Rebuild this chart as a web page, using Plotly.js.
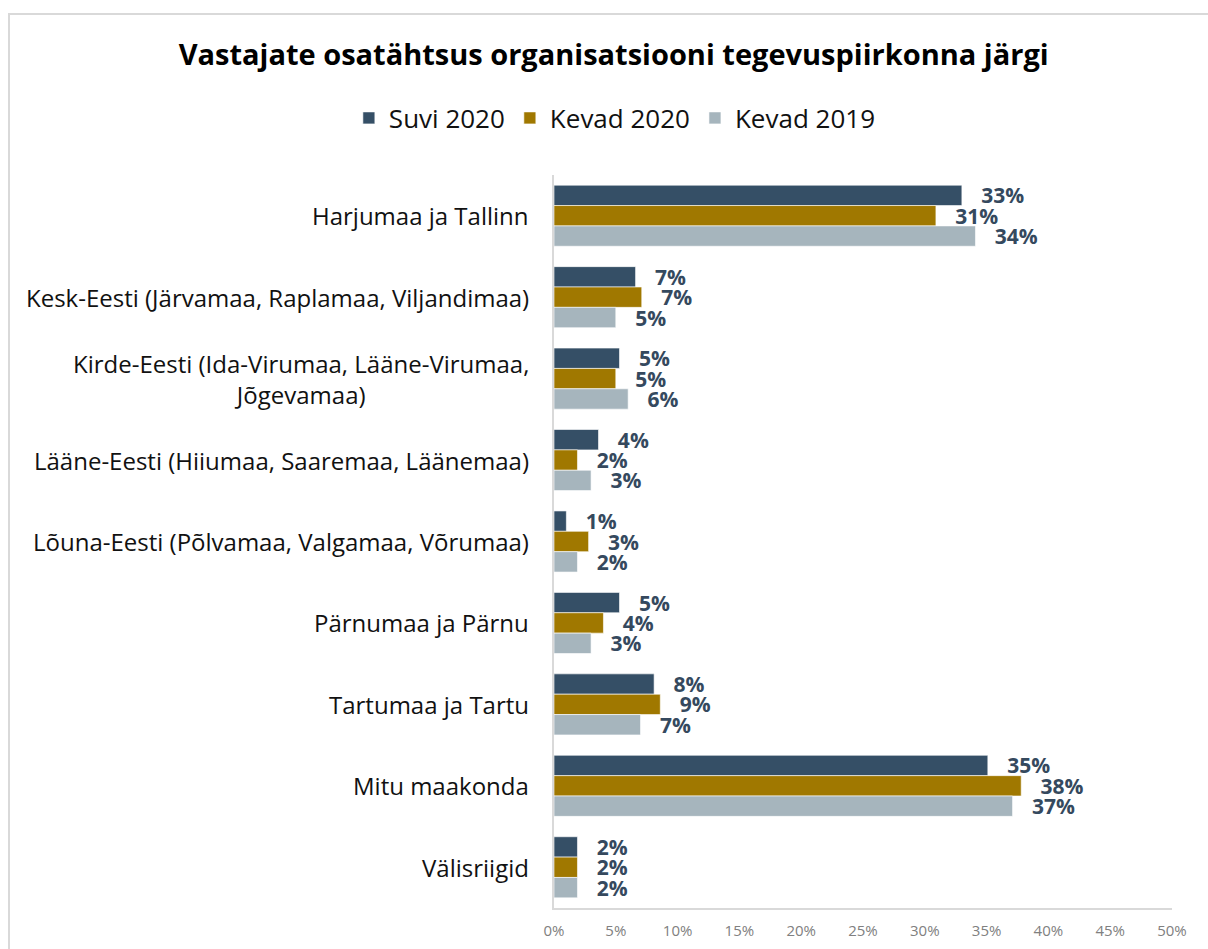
<!DOCTYPE html>
<html>
<head>
<meta charset="utf-8">
<script src="https://cdn.plot.ly/plotly-3.0.1.min.js"></script>
<style>
  html, body { margin: 0; padding: 0; background: #ffffff; }
  #wrap { position: relative; width: 1208px; height: 949px; overflow: hidden; }
  #chart { position: absolute; left: 0; top: 0; width: 1208px; height: 949px; }
  #frame { position: absolute; left: 8px; top: 13px; width: 1300px; height: 1100px;
           border: 2px solid #d9d9d9; box-sizing: border-box; pointer-events: none; }
</style>
</head>
<body>
<div id="wrap">
  <div id="chart"></div>
  <div id="frame"></div>
</div>
<script>
const chartTitle = 'Vastajate osatähtsus organisatsiooni tegevuspiirkonna järgi';
const categories = [
  'Harjumaa ja Tallinn',
  'Kesk-Eesti (Järvamaa, Raplamaa, Viljandimaa)',
  'Kirde-Eesti (Ida-Virumaa, Lääne-Virumaa,<br>Jõgevamaa)',
  'Lääne-Eesti (Hiiumaa, Saaremaa, Läänemaa)',
  'Lõuna-Eesti (Põlvamaa, Valgamaa, Võrumaa)',
  'Pärnumaa ja Pärnu',
  'Tartumaa ja Tartu',
  'Mitu maakonda',
  'Välisriigid'
];
const seriesNames = ['Suvi 2020', 'Kevad 2020', 'Kevad 2019'];
const suvi2020   = [33.0, 6.6, 5.3, 3.6, 1.0, 5.3, 8.1, 35.1, 1.9];
const kevad2020  = [30.9, 7.1, 5.0, 1.9, 2.8, 4.0, 8.6, 37.8, 1.9];
const kevad2019  = [34.1, 5.0, 6.0, 3.0, 1.9, 3.0, 7.0, 37.1, 1.9];
const xTickVals  = [0, 5, 10, 15, 20, 25, 30, 35, 40, 45, 50];

const colors = ['#354f66', '#a07800', '#a6b5bd'];
const labelColor = '#35495e';
const FONT = '"Open Sans", "Noto Sans", sans-serif';

const seriesValues = [suvi2020, kevad2020, kevad2019];
const traces = seriesValues.map((vals, i) => ({
  type: 'bar',
  orientation: 'h',
  name: seriesNames[i],
  y: categories,
  x: vals,
  marker: { color: colors[i], line: { color: 'rgba(255,255,255,0.6)', width: 1 } },
  texttemplate: '\u00a0\u00a0\u00a0%{x:.0f}%',
  textposition: 'outside',
  constraintext: 'none',
  cliponaxis: false,
  textfont: { family: FONT, size: 21, color: labelColor, weight: 'bold' },
  hoverinfo: 'x+y+name'
}));

const annotations = categories.map(c => ({
  xref: 'paper', yref: 'y',
  x: -0.037, y: c,
  xanchor: 'right', yanchor: 'middle',
  align: 'center',
  text: c,
  showarrow: false,
  font: { family: FONT, size: 24, color: '#111111' }
}));

const layout = {
  width: 1208,
  height: 949,
  paper_bgcolor: 'rgba(0,0,0,0)',
  plot_bgcolor: 'rgba(0,0,0,0)',
  margin: { l: 554, r: 36, t: 175, b: 41 },
  font: { family: FONT },
  title: {
    text: '<b>' + chartTitle + '</b>',
    font: { family: FONT, size: 29, color: '#000000' },
    xref: 'container', yref: 'container',
    x: 0.508, xanchor: 'center',
    y: 1 - 55 / 949, yanchor: 'middle'
  },
  showlegend: true,
  legend: {
    orientation: 'h',
    xref: 'container', yref: 'container',
    x: 0.509, xanchor: 'center',
    y: 1 - 118 / 949, yanchor: 'middle',
    font: { family: FONT, size: 26, color: '#111111' },
    traceorder: 'normal',
    itemwidth: 30
  },
  barmode: 'group',
  bargap: 0.25,
  bargroupgap: 0,
  xaxis: {
    range: [0, 50],
    tickvals: xTickVals,
    ticktext: xTickVals.map(v => v + '%'),
    showgrid: false,
    zeroline: false,
    showline: true,
    linecolor: '#d9d9d9',
    linewidth: 2,
    ticks: '',
    ticklabelstandoff: 8,
    tickfont: { family: FONT, size: 15, color: '#808080' },
    fixedrange: true
  },
  yaxis: {
    type: 'category',
    autorange: 'reversed',
    showticklabels: false,
    showgrid: false,
    zeroline: false,
    showline: true,
    linecolor: '#d9d9d9',
    linewidth: 2,
    ticks: '',
    fixedrange: true
  },
  annotations: annotations
};

Plotly.newPlot('chart', traces, layout, { displayModeBar: false, staticPlot: true });
</script>
</body>
</html>
